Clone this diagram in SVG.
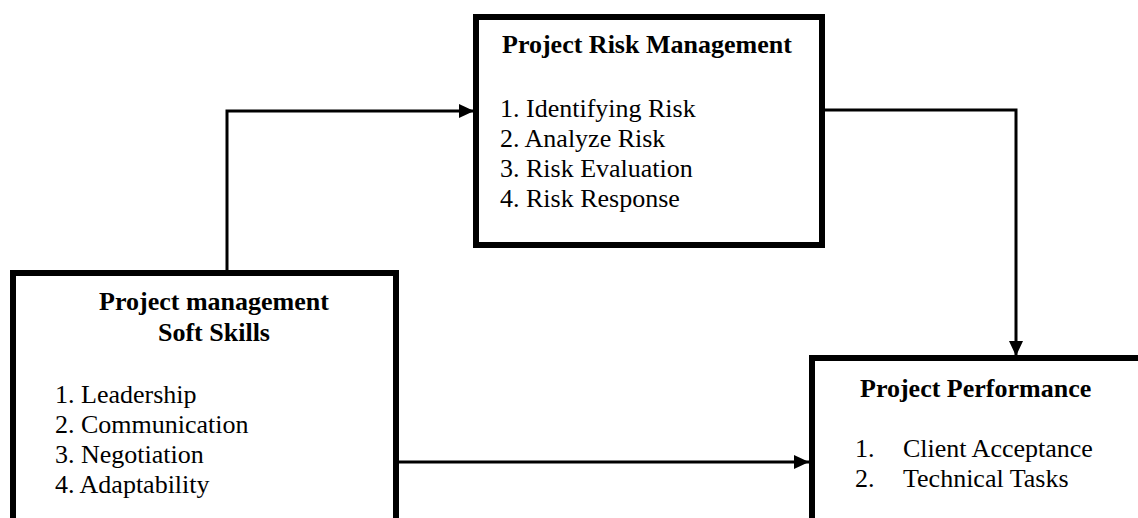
<svg xmlns="http://www.w3.org/2000/svg" width="1138" height="518" viewBox="0 0 1138 518">
<style>
.box{fill:#fff;stroke:#000;stroke-width:6}
.conn{fill:none;stroke:#000;stroke-width:3}
text{font-family:"Liberation Serif","Times New Roman",serif;font-size:26px;fill:#000}
.t{font-weight:bold}
</style>
<defs>
<marker id="arr" markerUnits="userSpaceOnUse" markerWidth="16" markerHeight="14" refX="15" refY="7" orient="auto">
<path d="M0,0 L15,7 L0,14 Z" fill="#000"/>
</marker>
</defs>
<rect width="1138" height="518" fill="#fff"/>
<g id="connectors">
<path class="conn" d="M227,273 V111 H474" marker-end="url(#arr)"/>
<path class="conn" d="M822,110 H1016 V356" marker-end="url(#arr)"/>
<path class="conn" d="M399,462 H809" marker-end="url(#arr)"/>
</g>
<g id="risk">
<rect class="box" x="476" y="17" width="346" height="228"/>
<text class="t" x="502" y="53">Project Risk Management</text>
<text x="500" y="117">1. Identifying Risk</text>
<text x="500" y="147">2. Analyze Risk</text>
<text x="500" y="177">3. Risk Evaluation</text>
<text x="500" y="207">4. Risk Response</text>
</g>
<g id="softskills">
<rect class="box" x="13" y="273" width="383" height="270"/>
<text class="t" x="214" y="310" text-anchor="middle">Project management</text>
<text class="t" x="214" y="341" text-anchor="middle">Soft Skills</text>
<text x="55" y="403">1. Leadership</text>
<text x="55" y="433">2. Communication</text>
<text x="55" y="463">3. Negotiation</text>
<text x="55" y="493">4. Adaptability</text>
</g>
<g id="performance">
<rect class="box" x="812" y="358" width="400" height="200"/>
<text class="t" x="860" y="397">Project Performance</text>
<text x="855" y="457">1.</text>
<text x="903" y="457">Client Acceptance</text>
<text x="855" y="487">2.</text>
<text x="903" y="487">Technical Tasks</text>
</g>
</svg>
